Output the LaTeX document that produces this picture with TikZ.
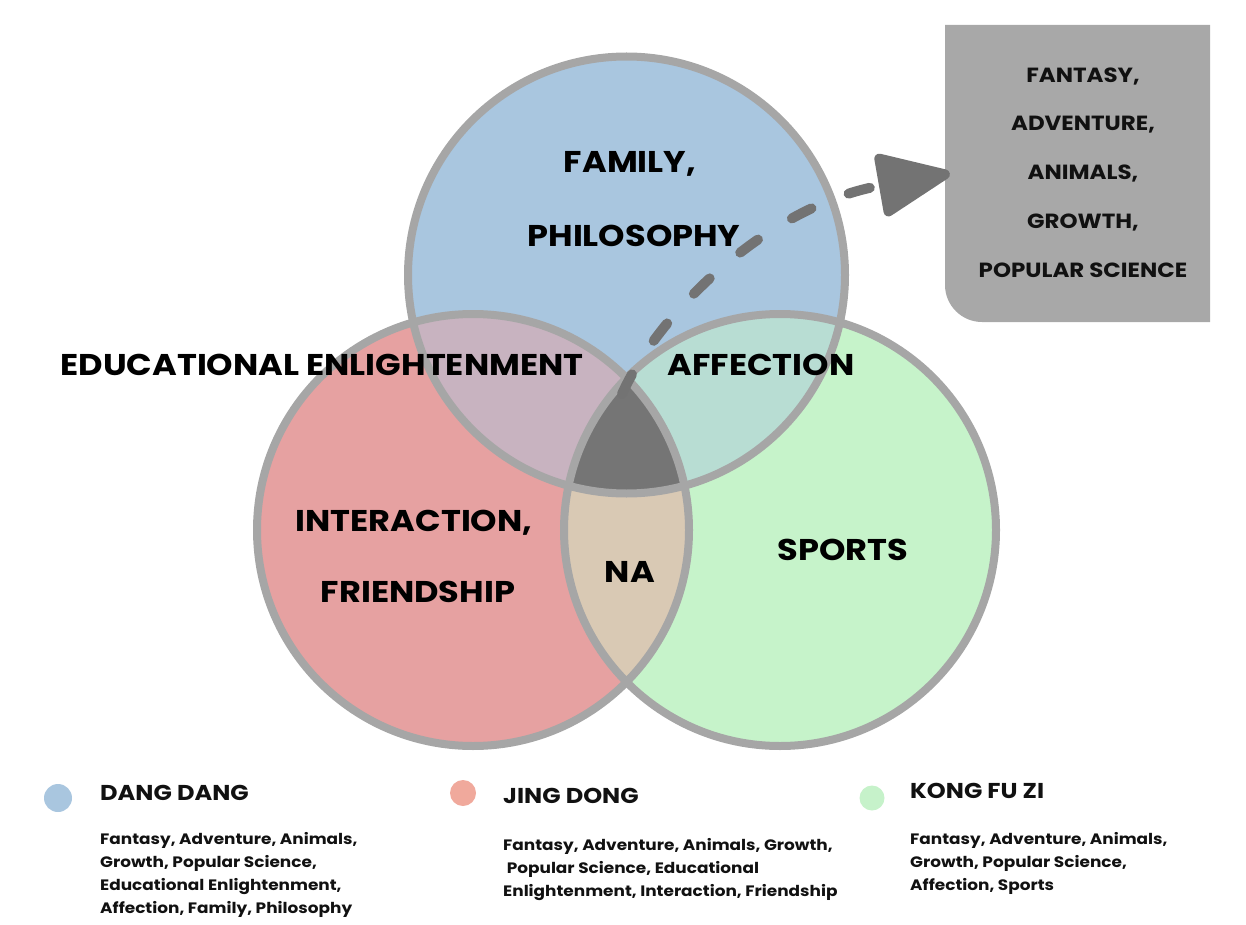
\documentclass[tikz,border=0pt]{standalone}
\usepackage{fontspec}
\setmainfont{Poppins}[FakeStretch=1.12]
\usetikzlibrary{arrows.meta}
\definecolor{cblue}{HTML}{A9C6DF}
\definecolor{cred}{HTML}{E6A1A1}
\definecolor{cgreen}{HTML}{C6F3CA}
\definecolor{cbr}{HTML}{C8B3C0}
\definecolor{cbg}{HTML}{B8DDD3}
\definecolor{crg}{HTML}{D9C9B4}
\definecolor{cdark}{HTML}{757575}
\definecolor{ringgray}{HTML}{A6A6A6}
\definecolor{boxgray}{HTML}{A8A8A8}
\definecolor{arrowgray}{HTML}{737373}
\definecolor{dotred}{HTML}{F0A99C}
\definecolor{dotgreen}{HTML}{C6F2CA}
\definecolor{txt}{HTML}{111111}
\tikzset{
  ring/.style={draw=ringgray, line width=8pt},
  biglabel/.style={font=\fontsize{30}{34}\selectfont\bfseries, anchor=base, text=black, inner sep=0pt},
  boxtext/.style={font=\fontsize{20.5}{48.7}\selectfont\bfseries, align=center, text=txt, inner sep=0pt, anchor=base},
  legtitle/.style={font=\fontsize{21.5}{24}\selectfont\bfseries, anchor=base west, inner sep=0pt, text=txt},
  legtext/.style={font=\fontsize{15.1}{22.7}\selectfont\bfseries, anchor=base west, align=left, inner sep=0pt, text=txt},
  pointer/.style={draw=arrowgray, line width=10pt, line cap=round, dash pattern=on 22pt off 40pt, -{Triangle[length=80pt,width=66pt,round]}},
}
\begin{document}
\begin{tikzpicture}[x=1pt,y=-1pt]
\useasboundingbox (0,0) rectangle (1246,925);
\coordinate (cB) at (626.5,275);
\coordinate (cR) at (473,530);
\coordinate (cG) at (780,530);
\coordinate (src) at (622,394);
% base fills
\fill[cblue] (cB) circle[radius=218.5pt];
\fill[cred] (cR) circle[radius=216pt];
\fill[cgreen] (cG) circle[radius=216pt];
% overlaps
\begin{scope}
  \clip (cB) circle[radius=218.5pt];
  \fill[cbr] (cR) circle[radius=216pt];
  \fill[cbg] (cG) circle[radius=216pt];
\end{scope}
\begin{scope}
  \clip (cR) circle[radius=216pt];
  \fill[crg] (cG) circle[radius=216pt];
\end{scope}
\begin{scope}
  \clip (cB) circle[radius=218.5pt];
  \clip (cR) circle[radius=216pt];
  \fill[cdark] (cG) circle[radius=216pt];
\end{scope}
% rings
\draw[ring] (cB) circle[radius=218.5pt];
\draw[ring] (cR) circle[radius=216pt];
\draw[ring] (cG) circle[radius=216pt];
% box
\fill[boxgray] (945,25) -- (1210,25) -- (1210,322) -- (982,322) .. controls (961.6,322) and (945,305.4) .. (945,285) -- cycle;
\node[minimum width=265pt, minimum height=297pt, inner sep=0pt] (box) at (1077.5,173.5) {};
\node[boxtext] (boxtxt) at (1083,277) {FANTASY,\\ADVENTURE,\\ANIMALS,\\GROWTH,\\POPULAR SCIENCE};
% pointer
\draw[pointer] (src) .. controls (660,310) and (770,205) .. ([xshift=5pt]box.west);
% labels
\node[biglabel] (fam) at (630,173) {FAMILY,};
\node[biglabel] (phil) at (634,247) {PHILOSOPHY};
\node[biglabel] (edu) at (322,375) {EDUCATIONAL ENLIGHTENMENT};
\node[biglabel] (aff) at (761,375) {AFFECTION};
\node[biglabel] (inter) at (414,531) {INTERACTION,};
\node[biglabel] (friend) at (418,602) {FRIENDSHIP};
\node[biglabel] (na) at (630,582) {NA};
\node[biglabel] (sports) at (843,560) {SPORTS};
% legend
\fill[cblue] (58,798) circle[radius=14pt];
\fill[dotred] (463,793) circle[radius=13pt];
\fill[dotgreen] (872,798) circle[radius=12.5pt];
\node[legtitle] (t1) at (100,800) {DANG DANG};
\node[legtitle] (t2) at (503,803) {JING DONG};
\node[legtitle] (t3) at (910,798) {KONG FU ZI};
\node[legtext] (d1) at (100,913) {Fantasy, Adventure, Animals,\\Growth, Popular Science,\\Educational Enlightenment,\\Affection, Family, Philosophy};
\node[legtext] (d2) at (503,896) {Fantasy, Adventure, Animals, Growth,\\\ Popular Science, Educational\\Enlightenment, Interaction, Friendship};
\node[legtext] (d3) at (910,890) {Fantasy, Adventure, Animals,\\Growth, Popular Science,\\Affection, Sports};
\end{tikzpicture}
\end{document}
